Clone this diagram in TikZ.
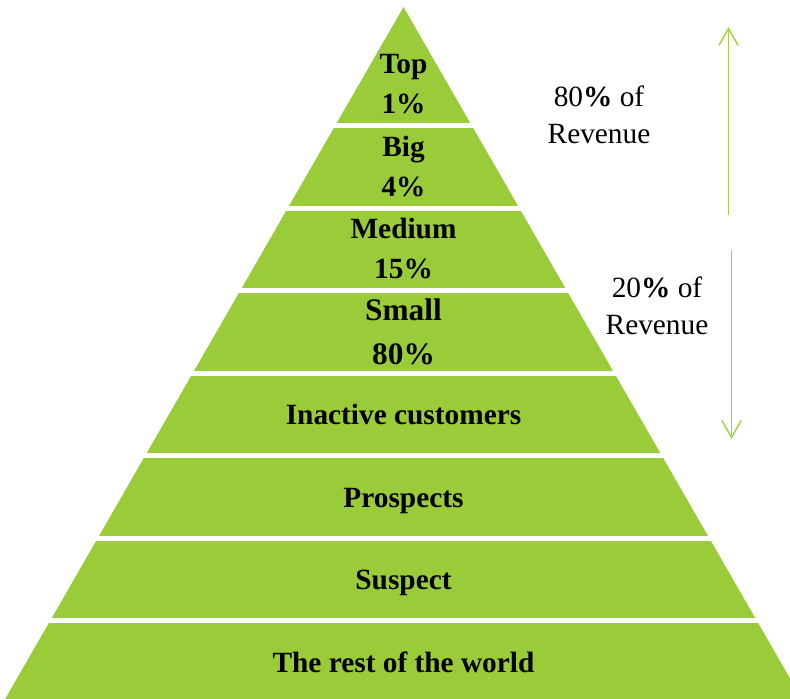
\documentclass[tikz,border=0pt]{standalone}
\usepackage{fontspec}
\setmainfont{Liberation Serif}
\usetikzlibrary{arrows.meta}
\begin{document}
\begin{tikzpicture}[x=0.75pt, y=-0.75pt, node distance=61.875pt]
    \definecolor{layer-color}{HTML}{9ACB38}
    \definecolor{arrow-color}{HTML}{A2D14A}
    \tikzstyle{every node}=[font=\fontsize{22}{30}\selectfont\bfseries]
    \tikzstyle{layer} = [text centered, align=center, inner sep=0pt]
    \tikzstyle{band} = [layer, text height=16pt, text depth=0pt]
    \tikzstyle{share} = [font=\fontsize{22}{28}\selectfont, align=center, inner sep=0pt]
    \tikzstyle{span} = [draw=arrow-color, line width=1.1pt, -{Straight Barb[length=12.75pt, width=14.5pt]}]
    \useasboundingbox (0,0) rectangle (790,699);
    \clip (0,0) rectangle (790,699);
    % pyramid, cut into layers by white bands
    \fill[layer-color] (403.5,7) -- (-30,760) -- (837,760) -- cycle;
    \foreach \k in {0,...,6}
        \fill[white] (0,{123+82.5*\k}) rectangle (790,{128+82.5*\k});
        \node (top) [layer] at (403.5,84) {Top\\1\%};
        \node (big) [layer, below of=top] {Big\\4\%};
        \node (medium) [layer, below of=big] {Medium\\15\%};
        \node (small) [layer, below of=medium, font=\fontsize{23.5}{33}\selectfont\bfseries] {Small\\80\%};
        \node (inactive) [band, below of=small] {Inactive customers};
        \node (prospects) [band, below of=inactive] {Prospects};
        \node (suspect) [band, below of=prospects] {Suspect};
        \node (world) [band, below of=suspect] {The rest of the world};
    % revenue shares on the right
        \node (share80) [share] at (599,115) {80\textbf{\%} of\\Revenue};
        \node (share20) [share] at (657,306) {20\textbf{\%} of\\Revenue};
    \coordinate (up-start) at (728.5,215);
    \coordinate (up-end) at (728.5,27);
    \coordinate (down-start) at (731.5,250);
    \coordinate (down-end) at (731.5,439);
    \draw[span] (up-start) -- (up-end);
    \draw[span] (down-start) -- (down-end);
\end{tikzpicture}
\end{document}
